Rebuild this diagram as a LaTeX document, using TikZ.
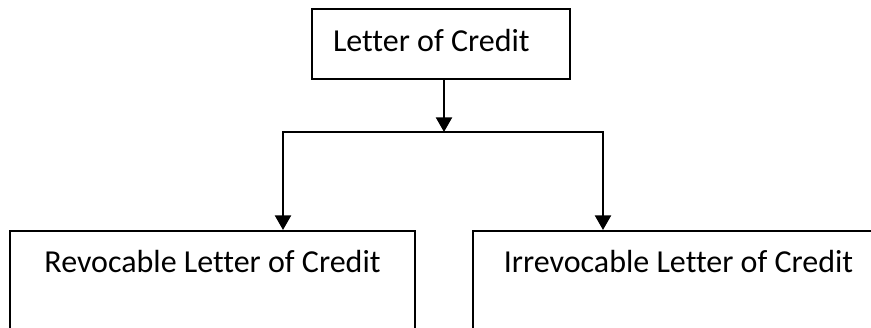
\documentclass[tikz,border=0pt]{standalone}
\usepackage{fontspec}
\setmainfont{Carlito}[Ligatures=NoCommon]
\usepackage{tikz}
\usetikzlibrary{arrows.meta}

\tikzset{
  lcbox/.style={draw, line width=1.5pt, inner ysep=0pt, minimum height=0pt,
    font=\fontsize{24}{28}\selectfont},
  lcarrow/.style={line width=1.8pt, -{Triangle[width=12pt, length=11pt]}},
  lcline/.style={line width=1.8pt}
}

\begin{document}
\begin{tikzpicture}[x=0.75pt, y=-0.75pt]
    \useasboundingbox (0,0) rectangle (871,328);
    \clip (0,0) rectangle (871,328);

    % top box
    \node[lcbox, inner xsep=15.75pt, text width=162pt, align=flush left,
      text height=32.25pt, text depth=20.25pt] (credit) at (441,44)
      {Letter of Credit};

    % the two kinds (cut at the lower edge)
    \node[lcbox, minimum width=303.75pt, text height=30.75pt, text depth=66pt]
      (revocable) at (212.5,295.5) {Revocable Letter of Credit};
    \node[lcbox, minimum width=308.25pt, text height=30.75pt, text depth=66pt]
      (irrevocable) at (678.5,295.5) {Irrevocable Letter of Credit};

    % branching
    \coordinate (junction) at (444,132);
    \coordinate (branchL) at (283,132);
    \coordinate (branchR) at (603,132);

    \draw[lcarrow] (credit.south -| junction) -- (junction);
    \draw[lcline, line cap=rect] (branchL) -- (branchR);
    \draw[lcarrow] (branchL) -- (branchL |- revocable.north);
    \draw[lcarrow] (branchR) -- (branchR |- irrevocable.north);
\end{tikzpicture}
\end{document}
